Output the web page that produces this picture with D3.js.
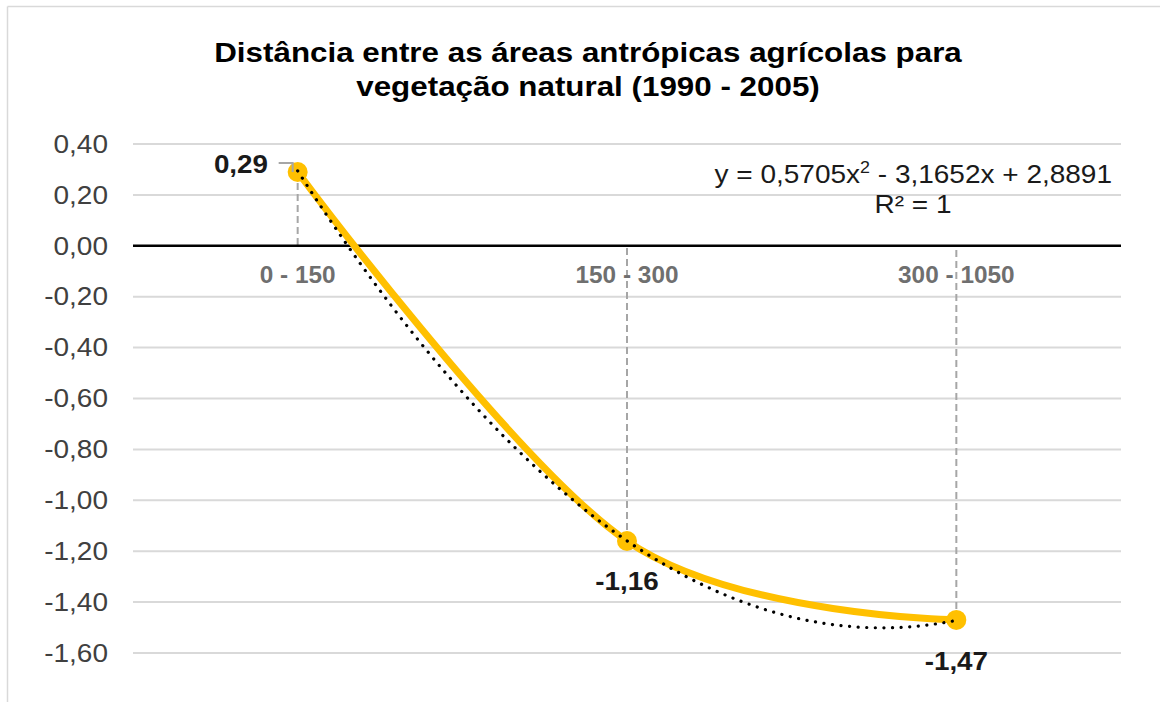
<!DOCTYPE html>
<html><head><meta charset="utf-8">
<script src="https://cdn.jsdelivr.net/npm/d3@7"></script>
<style>html,body{margin:0;padding:0;background:#fff;}svg{display:block;font-family:"Liberation Sans",Arial,sans-serif;}</style>
</head><body>
<svg id="c" width="1168" height="702"></svg>
<script>
const categories = ["0 - 150", "150 - 300", "300 - 1050"];
const values = [0.29, -1.16, -1.47];
const valueLabels = ["0,29", "-1,16", "-1,47"];
const yTicks = [0.4, 0.2, 0, -0.2, -0.4, -0.6, -0.8, -1.0, -1.2, -1.4, -1.6];
const trendCoef = [0.5705, -3.1652, 2.8891]; // a, b, c  (y = a x^2 + b x + c)
const titleLines = ["Distância entre as áreas antrópicas agrícolas para", "vegetação natural (1990 - 2005)"];

(function(){
const svg = d3.select("#c");
const pL = 133, pR = 1121, pT = 144, pB = 653;
const tf = (x, y, sx) => `translate(${x},${y}) scale(${sx},1)`;

// frame
svg.append("line").attr("x1",7.5).attr("x2",7.5).attr("y1",6.5).attr("y2",702).attr("stroke","#d9d9d9").attr("stroke-width",1.5);
svg.append("line").attr("x1",7.5).attr("x2",1160).attr("y1",6.5).attr("y2",6.5).attr("stroke","#d9d9d9").attr("stroke-width",1.5);

const x = d3.scaleBand().domain(categories).range([pL, pR]).padding(0);
const xc = c => x(c) + x.bandwidth()/2;
const y = d3.scaleLinear().domain([-1.6, 0.4]).range([pB, pT]);

// title
titleLines.forEach((l,i)=> svg.append("text").attr("text-anchor","middle").attr("font-weight","bold")
  .attr("font-size",28).attr("fill","#000").attr("transform", tf(588, 62 + i*34, 1.12)).text(l));

// gridlines
svg.append("g").selectAll("line").data(yTicks.filter(v=>Math.abs(v)>1e-9)).join("line")
  .attr("x1",pL).attr("x2",pR).attr("y1",d=>y(d)).attr("y2",d=>y(d))
  .attr("stroke","#d9d9d9").attr("stroke-width",2);

// y axis labels
const fmt = v => d3.format(".2f")(v).replace(".", ",").replace("−","-");
svg.append("g").selectAll("text").data(yTicks).join("text")
  .attr("transform", d=>tf(108, y(d), 1.12)).attr("dy","0.35em").attr("text-anchor","end")
  .attr("font-size",25).attr("fill","#404040").text(d=>fmt(d));

// drop lines
svg.append("g").selectAll("line").data(values).join("line")
  .attr("x1",(d,i)=>xc(categories[i])).attr("x2",(d,i)=>xc(categories[i]))
  .attr("y1",d=>y(d)).attr("y2",y(0))
  .attr("stroke","#a6a6a6").attr("stroke-width",2).attr("stroke-dasharray","7,4");

// zero axis
svg.append("line").attr("x1",pL).attr("x2",pR).attr("y1",y(0)).attr("y2",y(0)).attr("stroke","#000").attr("stroke-width",2.5);

// category labels
svg.append("g").selectAll("text").data(categories).join("text")
  .attr("transform", d=>tf(xc(d), 283, 1.06)).attr("text-anchor","middle")
  .attr("font-size",23).attr("font-weight","bold").attr("fill","#6f6f6f").text(d=>d);

// series line (smoothed)
const pts = values.map((v,i)=>[xc(categories[i]), y(v)]);
svg.append("path").attr("d", d3.line().curve(d3.curveCardinal.tension(0))(pts))
  .attr("fill","none").attr("stroke","#FFC000").attr("stroke-width",7).attr("stroke-linecap","round");

// markers
svg.append("g").selectAll("circle").data(pts).join("circle")
  .attr("cx",d=>d[0]).attr("cy",d=>d[1]).attr("r",10).attr("fill","#FFC000");

// trendline
const xi = d3.scaleLinear().domain([1,3]).range([xc(categories[0]), xc(categories[2])]);
const tr = d3.range(0, 101).map(k => { const u = 1 + 2*k/100; return [xi(u), y(trendCoef[0]*u*u + trendCoef[1]*u + trendCoef[2])]; });
svg.append("path").attr("d", d3.line()(tr)).attr("fill","none").attr("stroke","#000")
  .attr("stroke-width",3.2).attr("stroke-dasharray","0.1,8.5").attr("stroke-linecap","round");

// leader line for first label
const p0 = pts[0];
svg.append("path").attr("d", `M${p0[0]-19},${p0[1]-9}H${p0[0]-5}V${p0[1]}`)
  .attr("fill","none").attr("stroke","#a6a6a6").attr("stroke-width",2);

// data labels
const labPos = [[268, 173, "end"], [xc(categories[1]), 590, "middle"], [xc(categories[2]), 670, "middle"]];
svg.append("g").selectAll("text").data(valueLabels).join("text")
  .attr("transform",(d,i)=>tf(labPos[i][0], labPos[i][1], 1.07)).attr("text-anchor",(d,i)=>labPos[i][2])
  .attr("font-size",26).attr("font-weight","bold").attr("fill","#1a1a1a").text(d=>d);

// equation
const eq = svg.append("text").attr("transform", tf(1112, 183, 1.12)).attr("text-anchor","end").attr("font-size",25).attr("fill","#1a1a1a");
eq.append("tspan").text("y = 0,5705x");
eq.append("tspan").attr("font-size",16).attr("dy",-10).text("2");
eq.append("tspan").attr("dy",10).text(" - 3,1652x + 2,8891");
svg.append("text").attr("transform", tf(913, 213, 1.12)).attr("text-anchor","middle").attr("font-size",25).attr("fill","#1a1a1a").text("R² = 1");
})();
</script>
</body></html>
